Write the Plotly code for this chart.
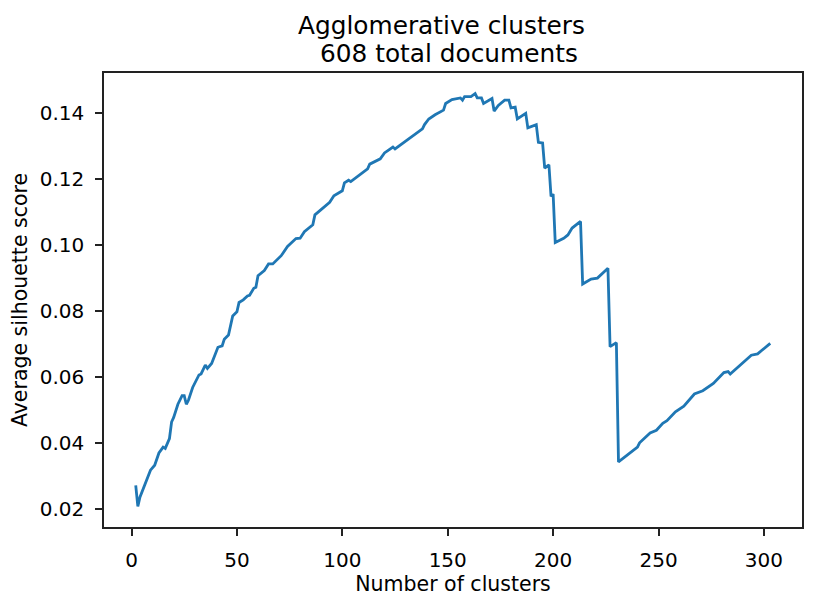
import plotly.graph_objects as go

n_clusters = [2, 3, 4, 9, 11, 13, 15, 16, 18, 19, 20, 22, 24, 25, 26, 27, 29, 32, 33, 35,
              36, 38, 41, 43, 44, 46, 48, 50, 51, 53, 55, 56, 58, 59, 60, 63, 65, 67, 71, 74,
              78, 80, 82, 86, 87, 91, 94, 96, 100, 101, 103, 104, 109, 112, 113, 118, 120, 124, 125, 131,
              137, 138, 139, 141, 144, 148, 149, 152, 156, 157, 158, 161, 163, 164, 166, 167, 171, 172, 174, 177,
              179, 180, 182, 183, 187, 188, 192, 193, 195, 196, 198, 199, 200, 201, 205, 207, 209, 213, 214, 218,
              221, 226, 227, 230, 231, 238, 240, 241, 246, 249, 252, 254, 258, 262, 267, 271, 276, 281, 283, 284,
              291, 294, 297, 303]
silhouette = [0.0271, 0.0207, 0.0235, 0.0317, 0.0332, 0.0369, 0.0387, 0.0383, 0.0413, 0.0463,
              0.0477, 0.0517, 0.0543, 0.0543, 0.0517, 0.0529, 0.0568, 0.0606, 0.0609, 0.0636,
              0.0626, 0.0641, 0.0690, 0.0694, 0.0714, 0.0727, 0.0785, 0.0798, 0.0826, 0.0834,
              0.0846, 0.0848, 0.0869, 0.0872, 0.0907, 0.0923, 0.0943, 0.0943, 0.0968, 0.0996,
              0.1020, 0.1021, 0.1041, 0.1062, 0.1092, 0.1113, 0.1130, 0.1150, 0.1165, 0.1189,
              0.1197, 0.1193, 0.1219, 0.1232, 0.1246, 0.1262, 0.1280, 0.1298, 0.1292, 0.1320,
              0.1346, 0.1353, 0.1366, 0.1383, 0.1396, 0.1410, 0.1430, 0.1442, 0.1447, 0.1440,
              0.1451, 0.1451, 0.1460, 0.1447, 0.1447, 0.1430, 0.1445, 0.1407, 0.1424, 0.1440,
              0.1440, 0.1417, 0.1419, 0.1383, 0.1400, 0.1356, 0.1366, 0.1312, 0.1310, 0.1234,
              0.1244, 0.1148, 0.1155, 0.1008, 0.1021, 0.1031, 0.1052, 0.1072, 0.0882, 0.0897,
              0.0900, 0.0930, 0.0692, 0.0704, 0.0342, 0.0375, 0.0387, 0.0400, 0.0430, 0.0438,
              0.0459, 0.0467, 0.0494, 0.0511, 0.0548, 0.0558, 0.0580, 0.0613, 0.0616, 0.0609,
              0.0651, 0.0666, 0.0670, 0.0702]

x_ticks = [0, 50, 100, 150, 200, 250, 300]
y_ticks = [0.02, 0.04, 0.06, 0.08, 0.10, 0.12, 0.14]
y_tick_labels = ["0.02", "0.04", "0.06", "0.08", "0.10", "0.12", "0.14"]

title_line1 = "Agglomerative clusters"
title_line2 = "608 total documents"

FONT = "DejaVu Sans"

fig = go.Figure()
fig.add_trace(go.Scatter(x=n_clusters, y=silhouette, mode="lines",
                         line=dict(color="#1f77b4", width=2.8), showlegend=False))

axis_common = dict(showline=True, linecolor="#222222", linewidth=1.5, mirror=True,
                   ticks="outside", ticklen=7, tickwidth=1.5, tickcolor="#222222",
                   showgrid=False, zeroline=False, ticklabelstandoff=7,
                   tickfont=dict(family=FONT, size=20, color="black"))

xmin, xmax = min(n_clusters), max(n_clusters)
ymin, ymax = min(silhouette), max(silhouette)
xpad = (xmax - xmin) * 0.05
ypad = (ymax - ymin) * 0.05

fig.update_xaxes(range=[xmin - xpad, xmax + xpad], tickvals=x_ticks,
                 title=dict(text="Number of clusters", font=dict(family=FONT, size=20.5, color="black"), standoff=3),
                 **axis_common)
fig.update_yaxes(range=[ymin - ypad, ymax + ypad], tickvals=y_ticks, ticktext=y_tick_labels,
                 title=dict(text="Average silhouette score", font=dict(family=FONT, size=20.5, color="black"), standoff=8),
                 **axis_common)

fig.add_annotation(text=title_line1, xref="paper", yref="paper", x=0.4835, y=1.1057,
                   xanchor="center", yanchor="middle", showarrow=False,
                   font=dict(family=FONT, size=24.8, color="black"))
fig.add_annotation(text=title_line2, xref="paper", yref="paper", x=0.4943, y=1.0419,
                   xanchor="center", yanchor="middle", showarrow=False,
                   font=dict(family=FONT, size=24.8, color="black"))

fig.update_layout(width=812, height=597,
                  margin=dict(l=96, r=18, t=65, b=78, autoexpand=False),
                  plot_bgcolor="white", paper_bgcolor="white",
                  font=dict(family=FONT, color="black"))

fig.write_html("out.html")
